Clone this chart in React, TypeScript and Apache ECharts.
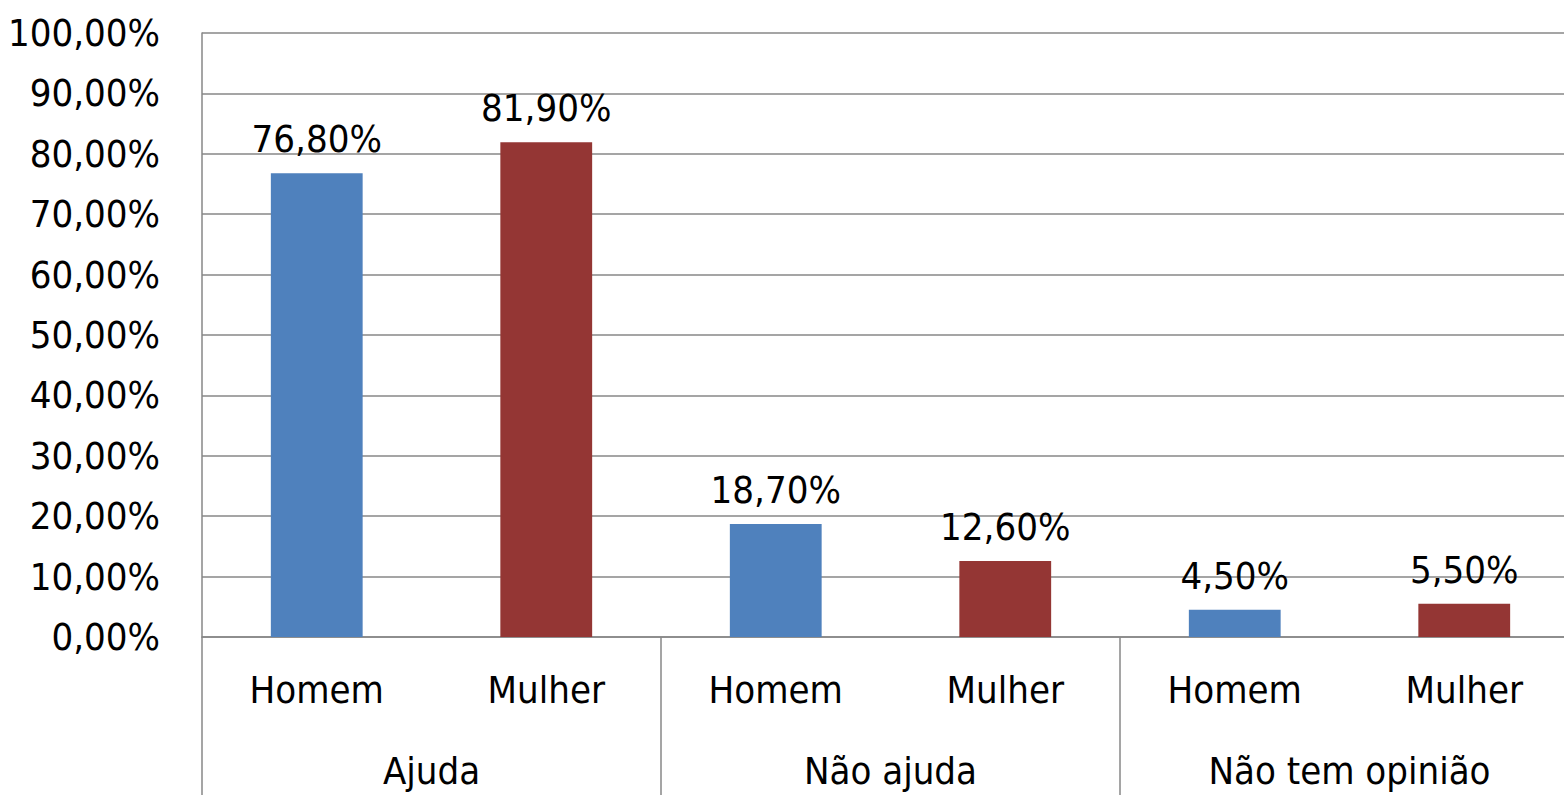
import React, { useEffect, useRef } from "react";
import * as echarts from "echarts";

const groups = ["Ajuda", "Não ajuda", "Não tem opinião"];
const genders = ["Homem", "Mulher"];
const homemValues = [0.768, 0.187, 0.045];
const mulherValues = [0.819, 0.126, 0.055];
const colors = ["#4F81BD", "#943634"];

const FONT = "'Liberation Sans Narrow', 'Arial Narrow', 'DejaVu Sans Condensed', sans-serif";
const FS = 38;
const GRID_COLOR = "#878787";

const fmt = (v: number) => (v * 100).toFixed(2).replace(".", ",") + "%";

export default function App() {
  const ref = useRef<HTMLDivElement>(null);
  useEffect(() => {
    if (!ref.current) return;
    const chart = echarts.init(ref.current, null, { renderer: "svg" });
    const cats: string[] = [];
    const data: any[] = [];
    groups.forEach((g, i) => {
      [homemValues[i], mulherValues[i]].forEach((v, j) => {
        cats.push(genders[j]);
        data.push({ value: v, itemStyle: { color: colors[j] } });
      });
    });
    chart.setOption({
      animation: false,
      backgroundColor: "#ffffff",
      grid: {
        left: 202,
        top: 33,
        width: 1377,
        height: 604,
        containLabel: false,
        outerBoundsMode: "none",
      },
      xAxis: [
        {
          type: "category",
          data: cats,
          position: "bottom",
          axisLine: { show: true, lineStyle: { color: GRID_COLOR, width: 1.5 } },
          axisTick: { show: false },
          axisLabel: { margin: 34, fontSize: FS, color: "#000", fontFamily: FONT, interval: 0 },
        },
        {
          type: "category",
          data: groups,
          position: "bottom",
          axisLine: { show: false },
          axisTick: { show: true, length: 158, alignWithLabel: false, lineStyle: { color: GRID_COLOR, width: 1.5 } },
          axisLabel: { margin: 115, fontSize: FS, color: "#000", fontFamily: FONT, interval: 0 },
          splitLine: { show: false },
        },
      ],
      yAxis: {
        type: "value",
        min: 0,
        max: 1,
        interval: 0.1,
        axisLine: { show: true, lineStyle: { color: GRID_COLOR, width: 1.5 } },
        axisTick: { show: false },
        splitLine: { show: true, lineStyle: { color: GRID_COLOR, width: 1.5 } },
        axisLabel: { margin: 42, fontSize: FS, color: "#000", fontFamily: FONT, formatter: fmt },
      },
      series: [
        {
          type: "bar",
          xAxisIndex: 0,
          data,
          barWidth: "40%",
          label: {
            show: true,
            position: "top",
            distance: 15,
            fontSize: FS,
            color: "#000",
            fontFamily: FONT,
            formatter: (p: any) => fmt(p.value),
          },
        },
      ],
    });
    return () => chart.dispose();
  }, []);
  return (
    <div
      ref={ref}
      style={{ position: "absolute", left: 0, top: 0, width: 1564, height: 795, background: "#fff" }}
    />
  );
}
